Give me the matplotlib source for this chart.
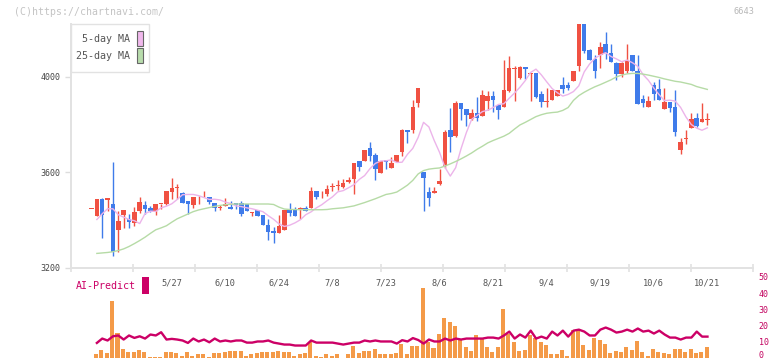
import matplotlib
matplotlib.use("Agg")
import matplotlib.pyplot as plt
from matplotlib.patches import Rectangle
from matplotlib.transforms import ScaledTranslation
import numpy as np

# --- data ---
date_labels = ["5/27", "6/10", "6/24", "7/8", "7/23", "8/6", "8/21", "9/4", "9/19", "10/6", "10/21"]
label_pos = [15, 25, 35, 45, 55, 65, 75, 85, 95, 105, 115]

opens = [3446, 3415, 3487, 3481, 3468, 3359, 3420, 3405, 3387, 3436,
         3462, 3449, 3436, 3466, 3466, 3515, 3533, 3512, 3478, 3461,
         3494, 3494, 3494, 3469, 3451, 3457, 3453, 3470, 3470, 3466,
         3430, 3442, 3418, 3380, 3353, 3345, 3359, 3439, 3446, 3446,
         3448, 3449, 3520, 3498, 3506, 3538, 3543, 3537, 3559, 3570,
         3645, 3645, 3700, 3671, 3596, 3650, 3616, 3641, 3683, 3776,
         3776, 3890, 3601, 3516, 3513, 3550, 3625, 3775, 3750, 3888,
         3863, 3823, 3847, 3836, 3898, 3918, 3880, 3873, 3939, 4032,
         3993, 4040, 4012, 4013, 3925, 3895, 3901, 3918, 3964, 3964,
         3981, 4044, 4240, 4111, 4073, 4089, 4136, 4100, 4057, 4010,
         4022, 4090, 4025, 3905, 3873, 3964, 3946, 3863, 3893, 3872,
         3693, 3739, 3786, 3827, 3810, 3816]
highs = [3447, 3487, 3490, 3490, 3644, 3437, 3440, 3426, 3453, 3495,
         3478, 3458, 3466, 3468, 3520, 3573, 3548, 3517, 3480, 3495,
         3500, 3522, 3494, 3469, 3463, 3493, 3478, 3470, 3478, 3466,
         3433, 3442, 3418, 3404, 3370, 3418, 3439, 3471, 3455, 3453,
         3458, 3537, 3520, 3521, 3546, 3553, 3566, 3569, 3578, 3638,
         3645, 3692, 3725, 3680, 3645, 3652, 3662, 3671, 3780, 3778,
         3901, 3952, 3601, 3536, 3536, 3612, 3775, 3868, 3897, 3888,
         3863, 3863, 3915, 3944, 3939, 3939, 3880, 4069, 4086, 4044,
         4046, 4040, 4014, 4014, 3940, 3952, 3943, 3943, 3998, 3978,
         4022, 4260, 4260, 4117, 4090, 4146, 4187, 4137, 4060, 4060,
         4136, 4092, 4092, 3924, 3918, 3977, 3991, 3954, 3895, 3943,
         3743, 3778, 3846, 3846, 3888, 3846]
lows = [3445, 3415, 3323, 3436, 3247, 3264, 3365, 3365, 3373, 3429,
        3425, 3434, 3419, 3446, 3460, 3488, 3487, 3471, 3424, 3448,
        3465, 3494, 3467, 3437, 3442, 3457, 3446, 3446, 3415, 3436,
        3415, 3415, 3377, 3315, 3303, 3345, 3359, 3415, 3415, 3402,
        3436, 3449, 3486, 3490, 3498, 3522, 3524, 3535, 3552, 3507,
        3606, 3645, 3648, 3566, 3596, 3614, 3616, 3641, 3666, 3722,
        3765, 3873, 3437, 3457, 3513, 3545, 3618, 3685, 3748, 3818,
        3792, 3818, 3813, 3836, 3860, 3852, 3821, 3873, 3935, 3897,
        3990, 3991, 3897, 3910, 3874, 3873, 3901, 3918, 3929, 3943,
        3981, 4022, 4099, 4068, 3993, 4035, 4073, 4059, 3985, 3999,
        4013, 4022, 3885, 3873, 3873, 3903, 3901, 3863, 3852, 3750,
        3675, 3719, 3786, 3788, 3810, 3797]
closes = [3446, 3487, 3419, 3490, 3264, 3394, 3440, 3390, 3432, 3474,
          3445, 3436, 3464, 3468, 3520, 3535, 3537, 3471, 3465, 3495,
          3496, 3496, 3476, 3450, 3454, 3464, 3446, 3461, 3424, 3436,
          3433, 3415, 3377, 3347, 3345, 3375, 3439, 3428, 3415, 3449,
          3436, 3520, 3495, 3501, 3527, 3541, 3546, 3553, 3566, 3638,
          3620, 3692, 3666, 3614, 3645, 3640, 3637, 3671, 3776, 3769,
          3872, 3952, 3576, 3492, 3520, 3562, 3767, 3747, 3888, 3863,
          3838, 3847, 3827, 3922, 3918, 3901, 3860, 3943, 4035, 4035,
          4040, 4032, 4014, 3913, 3892, 3898, 3943, 3943, 3947, 3952,
          4022, 4230, 4107, 4070, 4022, 4123, 4098, 4059, 4010, 4057,
          4065, 4024, 3885, 3888, 3897, 3926, 3901, 3893, 3868, 3767,
          3724, 3742, 3821, 3792, 3821, 3824]

ma5 = [np.nan, 3401, 3425, 3446, 3446, 3421, 3411, 3401, 3396, 3384,
       3426, 3436, 3435, 3450, 3457, 3467, 3485, 3505, 3506, 3506,
       3501, 3493, 3485, 3486, 3483, 3474, 3468, 3458, 3455, 3450,
       3446, 3440, 3434, 3417, 3402, 3383, 3372, 3377, 3387, 3400,
       3421, 3433, 3450, 3463, 3480, 3496, 3517, 3522, 3534, 3547,
       3569, 3585, 3614, 3636, 3646, 3647, 3651, 3640, 3641, 3674,
       3699, 3745, 3808, 3789, 3732, 3682, 3620, 3583, 3618, 3697,
       3765, 3821, 3837, 3853, 3859, 3870, 3883, 3886, 3909, 3931,
       3955, 3983, 4017, 4031, 4007, 3978, 3950, 3932, 3918, 3925,
       3937, 3961, 4019, 4052, 4076, 4090, 4100, 4084, 4074, 4062,
       4069, 4058, 4043, 4008, 3984, 3952, 3924, 3899, 3901, 3897,
       3871, 3831, 3799, 3784, 3775, 3785]
ma25 = [np.nan, 3259, 3261, 3263, 3266, 3271, 3278, 3288, 3300, 3313,
        3327, 3343, 3358, 3366, 3375, 3390, 3404, 3414, 3424, 3434,
        3441, 3446, 3451, 3456, 3460, 3463, 3465, 3466, 3466, 3466,
        3466, 3466, 3466, 3466, 3464, 3453, 3445, 3443, 3443, 3442,
        3442, 3442, 3442, 3442, 3443, 3446, 3448, 3450, 3454, 3458,
        3465, 3472, 3480, 3488, 3497, 3506, 3510, 3516, 3530, 3545,
        3565, 3592, 3606, 3612, 3615, 3617, 3625, 3634, 3644, 3655,
        3667, 3680, 3695, 3708, 3722, 3732, 3741, 3750, 3762, 3780,
        3797, 3808, 3820, 3832, 3840, 3846, 3849, 3851, 3858, 3870,
        3900, 3920, 3934, 3946, 3957, 3966, 3976, 3986, 3998, 4006,
        4011, 4013, 4013, 4010, 4006, 4001, 3996, 3990, 3985, 3980,
        3977, 3972, 3967, 3958, 3952, 3946]

volume = [0, 2.2, 5.2, 2.8, 35.4, 15.3, 5.8, 4.0, 3.6, 4.8,
          3.4, 0.9, 0.9, 0.9, 4.0, 3.6, 2.8, 1.5, 4.0, 1.5,
          2.2, 2.2, 0.9, 2.8, 2.8, 4.0, 4.6, 4.2, 4.2, 1.5,
          2.2, 3.2, 3.4, 3.4, 3.4, 4.6, 4.0, 3.4, 1.5, 2.2,
          2.8, 9.7, 1.5, 0.9, 2.2, 1.5, 2.2, 0.3, 2.2, 7.1,
          2.8, 4.6, 4.6, 5.8, 2.2, 2.2, 2.2, 2.8, 8.9, 2.2,
          7.7, 7.7, 43.4, 10, 6, 15, 25, 22.5, 20, 12,
          7, 4.6, 13.9, 12.6, 7, 3.4, 7, 30, 15, 10,
          4.6, 5.2, 13.9, 12.6, 10, 8.3, 2.2, 2.2, 5.2, 1.5,
          17, 17, 8.3, 5.2, 12.6, 11.4, 8.9, 2.8, 4.6, 4,
          6.5, 5.2, 10.8, 3.4, 1.5, 5.8, 3.4, 2.8, 2.2, 5.8,
          5.8, 3.4, 5.8, 2.8, 3.4, 6.5]
ai_predict = [np.nan, 9.3, 12, 10.8, 13.4, 13.9, 11.4, 13.9, 12.4, 13.4,
              12, 14.5, 13.9, 15.9, 11.4, 11.8, 11.4, 10.8, 9.3, 12,
              10.2, 11.4, 9.7, 12, 10.2, 10.8, 10.2, 10.8, 10.8, 9.5,
              9.5, 10.2, 10.2, 10.8, 9.5, 8.9, 8.3, 8.3, 7.7, 7.7,
              7.7, 10.8, 9.5, 9.5, 9.5, 9.5, 8.9, 8.3, 8.9, 9.5,
              9.5, 10.8, 10.2, 10.8, 10.2, 10.2, 10.2, 8.9, 11.0, 10.2,
              12.3, 11.1, 8.9, 11.4, 10.2, 10.2, 12, 10.8, 12, 11.4,
              12, 12, 12, 12, 12.6, 12.6, 12, 13.9, 16.3, 12,
              14.5, 12.6, 16.9, 12, 13.2, 12, 16.3, 13.9, 16.9, 13.2,
              16.9, 17.5, 16.3, 13.9, 13.9, 17.5, 18.8, 17.5, 15.7, 16.3,
              17.5, 16.3, 18.2, 16.3, 16.9, 15.1, 16.9, 14.5, 12.6, 12.6,
              11.4, 12.6, 12.6, 16.3, 13.2, 13.2]

W, H = 772, 361
UP, DOWN = "#f05142", "#3f7bea"
MONO = "DejaVu Sans Mono"


def fx(px):
    return px / W


def fy(py):
    return 1 - py / H


fig = plt.figure(figsize=(W / 100, H / 100), dpi=100)

# volume / AI-Predict panel (drawn first so the price axis labels sit on top)
av = fig.add_axes([fx(71), fy(358), fx(753) - fx(71), fy(277) - fy(358)])
av.patch.set_visible(False)
x = np.arange(len(closes))
av.bar(x - 0.15, volume, width=0.75, color="#f49a48", linewidth=0, zorder=2)
av.plot(x, ai_predict, color="#cc0066", linewidth=1.7, zorder=3)
av.set_xlim(-3.83, 123.5)
av.set_ylim(0, 50)
for s in av.spines.values():
    s.set_visible(False)
av.set_xticks([])
av.yaxis.tick_right()
av.set_yticks([0, 10, 20, 30, 40, 50])
av.set_yticklabels(["0", "10", "20", "30", "40", "50"], fontfamily=MONO,
                   fontsize=6, color="#c2005e")
av.tick_params(axis="y", length=0, pad=4)
# nudge the bottom "0" up a little so it stays inside the picture
zero_lbl = av.get_yticklabels()[0]
zero_lbl.set_transform(zero_lbl.get_transform() + ScaledTranslation(0, 2.5 / 72, fig.dpi_scale_trans))

# price panel
ax = fig.add_axes([fx(71), fy(267.5), fx(753) - fx(71), fy(24) - fy(267.5)])
ax.patch.set_visible(False)
o = np.array(opens, float)
c = np.array(closes, float)
up = c >= o
col = np.where(up, UP, DOWN)
body_lo = np.minimum(o, c)
body_h = np.maximum(np.abs(c - o), 3)

ax.vlines(x, lows, highs, colors=col, linewidth=1.0, zorder=2)
ax.bar(x, body_h, bottom=body_lo, width=0.85, color=col, linewidth=0, zorder=3)
ax.plot(x, ma5, color="#ecb4ea", linewidth=1.0, zorder=4)
ax.plot(x, ma25, color="#b6dba6", linewidth=1.0, zorder=4)

ax.set_xlim(-3.83, 123.5)
ax.set_ylim(3200, 4220)
for s in ["top", "right"]:
    ax.spines[s].set_visible(False)
for s in ["left", "bottom"]:
    ax.spines[s].set_color("#e2e2e2")
    ax.spines[s].set_linewidth(1.4)

ax.set_yticks([3200, 3600, 4000])
ax.set_yticklabels(["3200", "3600", "4000"], fontfamily=MONO, fontsize=6, color="#444")
ax.tick_params(axis="y", direction="out", length=4.5, width=1, color="#dddddd", pad=3)

ax.set_xticks(label_pos)
ax.set_xticklabels(date_labels, fontfamily=MONO, fontsize=6.2, color="#555")
ax.tick_params(axis="x", which="major", length=0, pad=8)
grid_ticks = [(71 + 62 * k - 91.5) / 5.355 for k in range(12)]
ax.set_xticks(grid_ticks, minor=True)
ax.tick_params(axis="x", which="minor", direction="inout", length=6, width=1.2, color="#e2e2e2")

# legend box
fig.patches.append(Rectangle((fx(71), fy(72)), fx(149) - fx(71), fy(24) - fy(72),
                             transform=fig.transFigure, facecolor="white",
                             edgecolor="#e2e2e2", linewidth=1, zorder=5))
fig.text(fx(130), fy(39.5), "5-day MA", ha="right", va="center", fontfamily=MONO,
         fontsize=7.2, color="#555", zorder=6)
fig.text(fx(130), fy(56), "25-day MA", ha="right", va="center", fontfamily=MONO,
         fontsize=7.2, color="#555", zorder=6)
fig.patches.append(Rectangle((fx(136.5), fy(46)), fx(6), fy(0) - fy(15),
                             transform=fig.transFigure, facecolor="#f0b8ec",
                             edgecolor="#666", linewidth=0.8, zorder=6))
fig.patches.append(Rectangle((fx(136.5), fy(63)), fx(6), fy(0) - fy(15),
                             transform=fig.transFigure, facecolor="#b8dcac",
                             edgecolor="#666", linewidth=0.8, zorder=6))

fig.text(fx(14), fy(12), "(C)https://chartnavi.com/", ha="left", va="center",
         fontfamily=MONO, fontsize=7.1, color="#c4c4c4")
fig.text(fx(755), fy(12), "6643", ha="right", va="center",
         fontfamily=MONO, fontsize=6.2, color="#b8b8b8")

fig.text(fx(76), fy(286), "AI-Predict", ha="left", va="center", fontfamily=MONO,
         fontsize=7.2, color="#cc0066")
fig.patches.append(Rectangle((fx(142), fy(294)), fx(7), fy(0) - fy(17),
                             transform=fig.transFigure, facecolor="#cc0066",
                             edgecolor="none"))

fig.savefig("out.png", dpi=100)
